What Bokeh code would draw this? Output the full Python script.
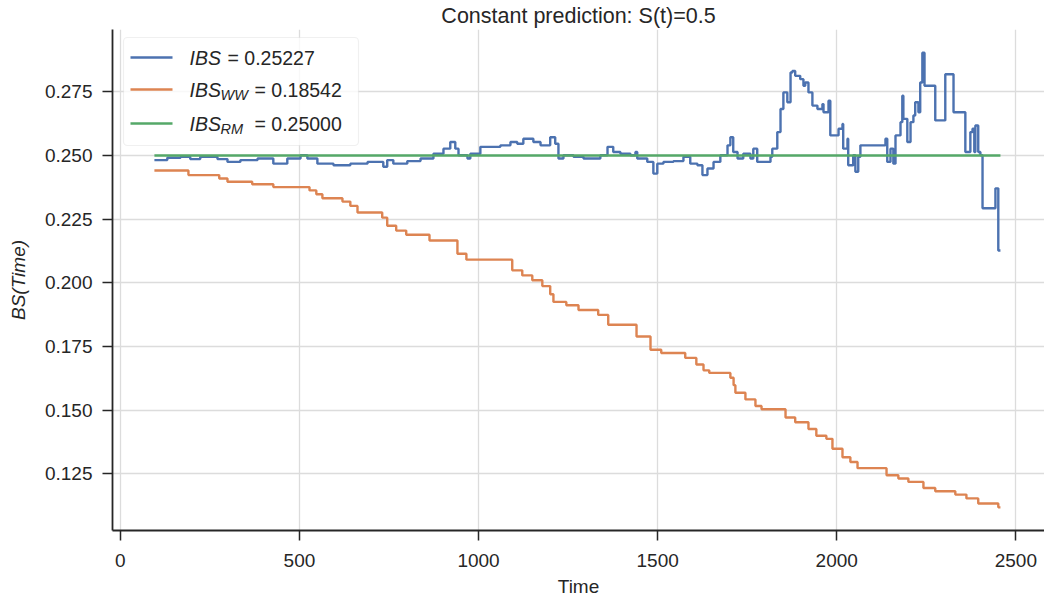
from bokeh.plotting import figure
from bokeh.models import (Range1d, FixedTicker, PrintfTickFormatter, BoxAnnotation, Label)
from bokeh.embed import file_html
from bokeh.resources import INLINE

# ---------------- data ----------------
title_text = "Constant prediction: S(t)=0.5"
x_label = "Time"
y_label = "BS(Time)"

x_ticks = [0, 500, 1000, 1500, 2000, 2500]
y_ticks = [0.125, 0.150, 0.175, 0.200, 0.225, 0.250, 0.275]

legend_names = ["IBS", "IBS", "IBS"]
legend_subs = ["", "WW", "RM"]
legend_values = ["0.25227", "0.18542", "0.25000"]

# Brier score, step function (blue)
bs_time = [95, 131, 168, 195, 223, 271, 299, 335, 383, 427, 466, 503, 522, 550,
           595, 642, 690, 734, 745, 762, 801, 838, 874, 902, 921, 935, 944, 969,
           977, 1005, 1061, 1089, 1108, 1125, 1153, 1173, 1200, 1214, 1223, 1237,
           1265, 1293, 1340, 1360, 1376, 1396, 1424, 1438, 1443, 1471, 1488, 1499,
           1516, 1544, 1572, 1591, 1611, 1625, 1639, 1656, 1675, 1695, 1703, 1711,
           1723, 1739, 1759, 1767, 1778, 1815, 1820, 1834, 1843, 1851, 1862, 1871,
           1876, 1884, 1898, 1907, 1912, 1921, 1932, 1946, 1960, 1963, 1977, 1982,
           2005, 2016, 2018, 2030, 2032, 2046, 2052, 2060, 2066, 2136, 2141, 2150,
           2158, 2164, 2178, 2183, 2186, 2197, 2206, 2214, 2219, 2228, 2233, 2239,
           2245, 2275, 2303, 2326, 2359, 2373, 2379, 2384, 2387, 2395, 2401, 2407,
           2443, 2451, 2457]
bs_value = [0.2482, 0.2491, 0.2495, 0.2486, 0.2495, 0.2486, 0.2475, 0.2482, 0.2488,
            0.2468, 0.2488, 0.2501, 0.2488, 0.2468, 0.2462, 0.2468, 0.2475, 0.2456,
            0.2482, 0.2468, 0.2478, 0.2488, 0.2507, 0.2527, 0.2553, 0.2527, 0.2501,
            0.2488, 0.2507, 0.2534, 0.2540, 0.2553, 0.2546, 0.2566, 0.2553, 0.2540,
            0.2572, 0.2546, 0.2488, 0.2501, 0.2495, 0.2488, 0.2501, 0.2534, 0.2514,
            0.2507, 0.2501, 0.2514, 0.2488, 0.2475, 0.2429, 0.2468, 0.2475, 0.2478,
            0.2495, 0.2468, 0.2462, 0.2423, 0.2449, 0.2475, 0.2501, 0.2540, 0.2572,
            0.2514, 0.2488, 0.2507, 0.2488, 0.2527, 0.2475, 0.2495, 0.2527, 0.2592,
            0.2683, 0.2748, 0.2709, 0.2826, 0.2832, 0.2813, 0.2800, 0.2774, 0.2787,
            0.2748, 0.2696, 0.2683, 0.2702, 0.2670, 0.2715, 0.2579, 0.2605, 0.2624,
            0.2527, 0.2566, 0.2462, 0.2501, 0.2436, 0.2495, 0.2540, 0.2566, 0.2475,
            0.2527, 0.2468, 0.2579, 0.2631, 0.2735, 0.2644, 0.2553, 0.2631, 0.2657,
            0.2709, 0.2670, 0.2787, 0.2904, 0.2774, 0.2638, 0.2819, 0.2670, 0.2514,
            0.2592, 0.2605, 0.2514, 0.2618, 0.2514, 0.2501, 0.2293, 0.2371, 0.2127,
            0.2127]

# Weighted Brier score, step function (orange)
ww_time = [95, 190, 276, 299, 368, 427, 528, 547, 564, 620, 642, 662, 731, 745,
           770, 798, 863, 941, 966, 1094, 1122, 1150, 1178, 1200, 1209, 1245,
           1279, 1334, 1362, 1441, 1480, 1510, 1577, 1608, 1628, 1644, 1703, 1712,
           1717, 1745, 1773, 1790, 1857, 1884, 1921, 1943, 1971, 1988, 2016, 2038,
           2058, 2139, 2172, 2200, 2242, 2275, 2331, 2362, 2395, 2451, 2457]
ww_value = [0.2441, 0.2423, 0.2410, 0.2397, 0.2387, 0.2376, 0.2363, 0.2348, 0.2332,
            0.2319, 0.2302, 0.2276, 0.2256, 0.2224, 0.2205, 0.2189, 0.2166, 0.2114,
            0.2091, 0.2049, 0.2029, 0.2010, 0.1987, 0.1955, 0.1925, 0.1912, 0.1893,
            0.1874, 0.1835, 0.1789, 0.1737, 0.1724, 0.1705, 0.1679, 0.1656, 0.1646,
            0.1627, 0.1598, 0.1568, 0.1542, 0.1516, 0.1503, 0.1471, 0.1452, 0.1426,
            0.1399, 0.1387, 0.1348, 0.1315, 0.1296, 0.1272, 0.1244, 0.1231, 0.1218,
            0.1194, 0.1181, 0.1168, 0.1153, 0.1133, 0.1118, 0.1118]

# Random model (green), constant
rm_time = [95, 2457]
rm_value = [0.25, 0.25]

colors = ["#4c72b0", "#dd8452", "#55a868"]

# ---------------- figure ----------------
FONT = "Liberation Sans"
TXT = "#262626"

p = figure(width=1044, height=599, output_backend="svg", toolbar_location=None,
           x_range=Range1d(-22, 2580), y_range=Range1d(0.1027, 0.2995),
           min_border_left=112, min_border_right=0, min_border_top=27,
           min_border_bottom=67, title=title_text)
p.outline_line_color = None
p.background_fill_color = "white"
p.border_fill_color = "white"

p.title.align = "center"
p.title.text_font = FONT
p.title.text_font_size = "21.5px"
p.title.text_font_style = "normal"
p.title.text_color = TXT
p.title.standoff = 3

r_bs = p.step(bs_time, bs_value, mode="after", line_color=colors[0], line_width=2.4)
r_ww = p.step(ww_time, ww_value, mode="after", line_color=colors[1], line_width=2.4)
r_rm = p.line(rm_time, rm_value, line_color=colors[2], line_width=2.4)

p.xaxis.ticker = FixedTicker(ticks=x_ticks)
p.yaxis.ticker = FixedTicker(ticks=y_ticks)
p.yaxis.formatter = PrintfTickFormatter(format="%.3f")
p.xaxis.axis_label = x_label
p.yaxis.axis_label = y_label

for ax in (p.xaxis[0], p.yaxis[0]):
    ax.axis_line_color = TXT
    ax.axis_line_width = 1.8
    ax.major_tick_line_color = TXT
    ax.major_tick_line_width = 1.5
    ax.major_tick_out = 10
    ax.major_tick_in = 0
    ax.minor_tick_line_color = None
    ax.major_label_text_font = FONT
    ax.major_label_text_font_size = "19px"
    ax.major_label_text_color = TXT
    ax.axis_label_text_font = FONT
    ax.axis_label_text_font_size = "19px"
    ax.axis_label_text_color = TXT

p.xaxis.major_label_standoff = 13
p.xaxis.axis_label_standoff = 6
p.xaxis.axis_label_text_font_style = "normal"
p.yaxis.major_label_standoff = 10
p.yaxis.axis_label_standoff = 13
p.yaxis.axis_label_text_font_style = "italic"

p.xgrid.ticker = FixedTicker(ticks=x_ticks)
p.ygrid.ticker = FixedTicker(ticks=y_ticks)
p.grid.grid_line_color = "#dcdcdc"
p.grid.grid_line_width = 1.3

# ---------------- legend drawn as annotations (frame-relative screen px) ----------------
frame_left, frame_bottom = 112, 532
p.add_layout(BoxAnnotation(left=123 - frame_left, right=358 - frame_left,
                           top=frame_bottom - 39, bottom=frame_bottom - 147,
                           left_units="screen", right_units="screen",
                           top_units="screen", bottom_units="screen",
                           fill_color="white", fill_alpha=0.8,
                           line_color="#cccccc", line_width=1.2, border_radius=4))

row_y = [59, 91, 125]
for i in range(3):
    yy = frame_bottom - row_y[i]
    p.add_layout(BoxAnnotation(left=130 - frame_left, right=172 - frame_left,
                               top=yy + 1.2, bottom=yy - 1.2,
                               left_units="screen", right_units="screen",
                               top_units="screen", bottom_units="screen",
                               fill_color=colors[i], fill_alpha=1.0, line_color=None))
    p.add_layout(Label(x=189 - frame_left, y=yy, x_units="screen", y_units="screen",
                       text=legend_names[i], text_font=FONT, text_font_size="19.5px",
                       text_font_style="italic", text_color=TXT, text_baseline="middle"))
    if legend_subs[i]:
        p.add_layout(Label(x=220 - frame_left, y=yy - 5, x_units="screen", y_units="screen",
                           text=legend_subs[i], text_font=FONT, text_font_size="14.5px",
                           text_font_style="italic", text_color=TXT, text_baseline="middle"))
        xv = 254
    else:
        xv = 227
    p.add_layout(Label(x=xv - frame_left, y=yy, x_units="screen", y_units="screen",
                       text="= " + legend_values[i], text_font=FONT, text_font_size="19.5px",
                       text_color=TXT, text_baseline="middle"))

open("out.html", "w").write(file_html(p, INLINE))
